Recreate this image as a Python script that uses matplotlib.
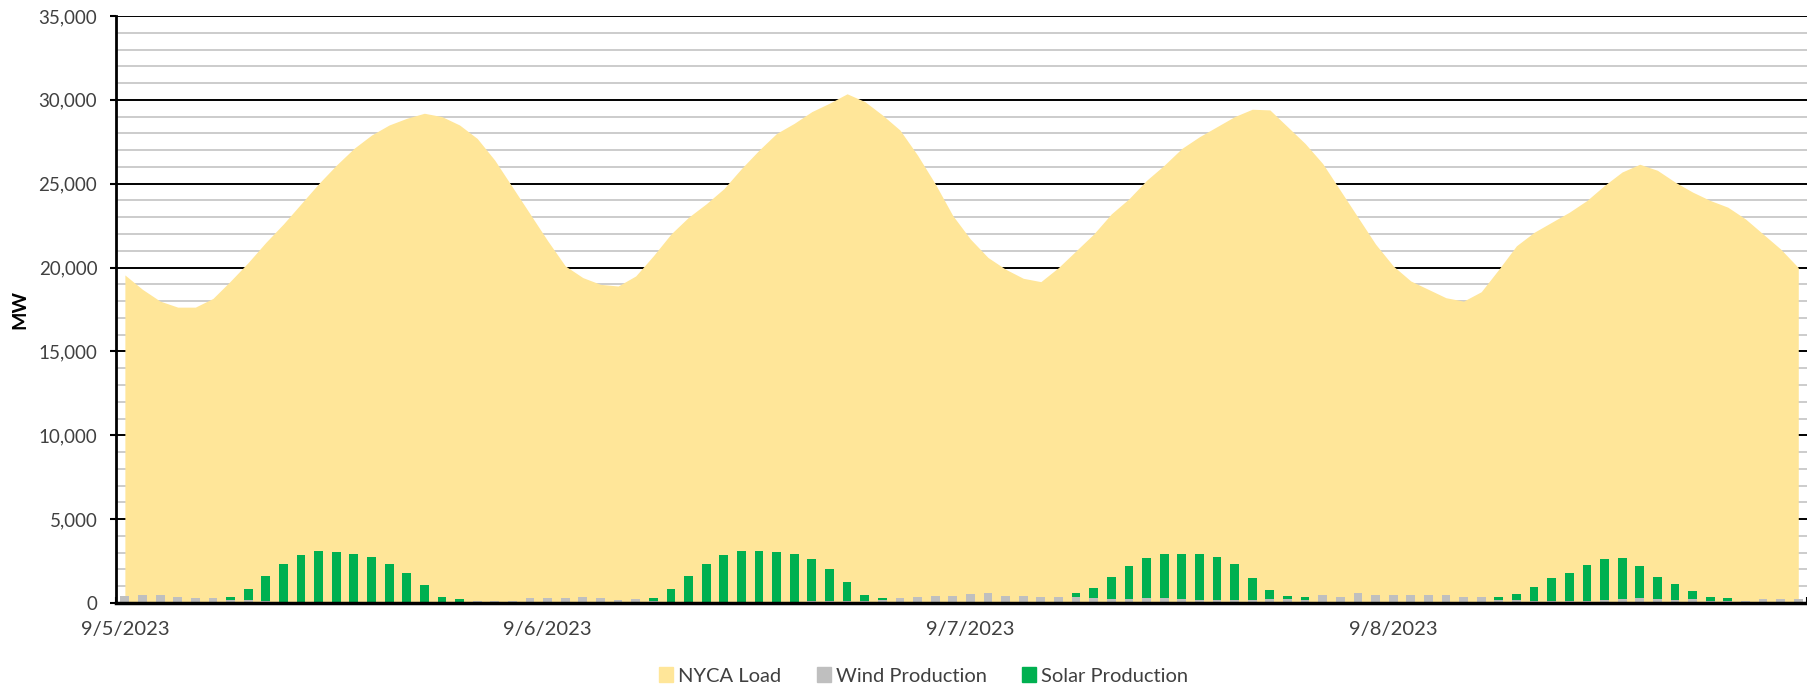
import numpy as np
import matplotlib
matplotlib.use('Agg')
import matplotlib.pyplot as plt
from matplotlib.patches import Patch

plt.rcParams['font.family'] = ['Lato', 'DejaVu Sans']

days = ['9/5/2023', '9/6/2023', '9/7/2023', '9/8/2023']

# hourly NYCA load, MW (9/5 00:00 .. 9/8 23:00)
load = [19560, 18700, 18000, 17640, 17640, 18160, 19200, 20300, 21500, 22600, 23800, 25000,
        26100, 27100, 27900, 28500, 28900, 29200, 29000, 28500, 27700, 26400, 24800, 23200,
        21600, 20100, 19400, 19000, 18900, 19500, 20700, 22000, 23000, 23800, 24700, 25900,
        27000, 28000, 28600, 29300, 29800, 30360, 29900, 29100, 28200, 26700, 25000, 23100,
        21700, 20600, 19900, 19360, 19160, 20000, 21000, 22000, 23200, 24100, 25200, 26100,
        27100, 27800, 28400, 29000, 29440, 29400, 28400, 27400, 26200, 24600, 23000, 21400,
        20100, 19200, 18700, 18200, 18000, 18560, 19900, 21300, 22100, 22700, 23300, 24000,
        24900, 25700, 26160, 25800, 25100, 24500, 24000, 23600, 22900, 22000, 21100, 20000]

wind = [400, 460, 460, 380, 320, 320, 150, 150, 100, 80, 70, 60,
        60, 60, 60, 60, 60, 60, 80, 60, 140, 140, 140, 280,
        280, 300, 360, 280, 200, 220, 100, 80, 60, 60, 60, 60,
        60, 60, 60, 100, 100, 120, 100, 160, 280, 360, 440, 440,
        560, 620, 440, 440, 360, 360, 360, 300, 220, 220, 320, 320,
        220, 160, 160, 160, 160, 220, 220, 160, 500, 380, 620, 480,
        480, 480, 480, 480, 360, 360, 160, 160, 100, 100, 100, 100,
        160, 220, 300, 220, 160, 220, 100, 100, 140, 220, 220, 220]

solar = [0, 0, 0, 0, 0, 0, 230, 685, 1510, 2245, 2770, 3040,
         2960, 2840, 2660, 2265, 1730, 1010, 300, 160, 0, 0, 0, 0,
         0, 0, 0, 0, 0, 0, 200, 735, 1530, 2265, 2780, 3040,
         3040, 2960, 2840, 2540, 1950, 1150, 380, 140, 0, 0, 0, 0,
         0, 0, 0, 0, 0, 0, 260, 600, 1310, 1970, 2380, 2580,
         2680, 2740, 2600, 2140, 1310, 530, 220, 220, 0, 0, 0, 0,
         0, 0, 0, 0, 0, 0, 200, 400, 855, 1370, 1690, 2145,
         2480, 2480, 1890, 1310, 970, 515, 260, 200, 0, 0, 0, 0]

yellow = '#FFE699'
grey = '#BFBFBF'
green = '#00B050'
txt = '#404040'

hours = np.arange(len(load)) + 0.5

fig = plt.figure(figsize=(18.08, 6.86), dpi=100)
ax = fig.add_axes([0.0642, 0.121, 0.9353, 0.8557])

# gridlines
for v in range(1000, 35001, 1000):
    if v % 5000 == 0:
        ax.axhline(v, color='black', lw=1.4, zorder=1)
    else:
        ax.axhline(v, color=grey, lw=1.1, zorder=1)

ax.fill_between(hours, load, 0, color=yellow, lw=0, zorder=2)
ax.bar(hours, wind, width=0.5, color=grey, lw=0, zorder=3)
ax.bar(hours, solar, width=0.5, bottom=wind, color=green, lw=0, zorder=3)

ax.set_xlim(0, 96)
ax.set_ylim(0, 35000)

ax.set_yticks(range(0, 35001, 5000))
ax.set_yticklabels([f'{v:,}' for v in range(0, 35001, 5000)])
ax.tick_params(axis='y', direction='out', length=4.5, width=1.5, pad=9,
               labelsize=13.5, labelcolor=txt)

# day boundary ticks, labels under the first hour of each day
ax.set_xticks(np.arange(0, 97, 24))
ax.set_xticklabels([])
ax.tick_params(axis='x', which='major', direction='in', length=4.5, width=1.5)
ax.set_xticks(np.arange(0, 96, 24) + 0.5, days, minor=True)
ax.tick_params(axis='x', which='minor', length=0, pad=13, labelsize=14.5, labelcolor=txt)

ax.set_ylabel('MW', fontsize=14, fontweight='bold', color='black')
ax.yaxis.set_label_coords(-0.052, 0.5)

for s in ['top', 'right']:
    ax.spines[s].set_visible(False)
ax.spines['left'].set_linewidth(2)
ax.spines['bottom'].set_linewidth(2.5)
ax.spines['left'].set_zorder(5)
ax.spines['bottom'].set_zorder(5)

handles = [Patch(color=yellow, label='NYCA Load'),
           Patch(color=grey, label='Wind Production'),
           Patch(color=green, label='Solar Production')]
fig.legend(handles=handles, loc='center', bbox_to_anchor=(0.511, 0.0146), ncol=3,
           frameon=False, fontsize=14.5, handlelength=0.7, handleheight=0.7,
           handletextpad=0.25, columnspacing=1.75, labelcolor=txt)

fig.savefig('out.png', dpi=100)
